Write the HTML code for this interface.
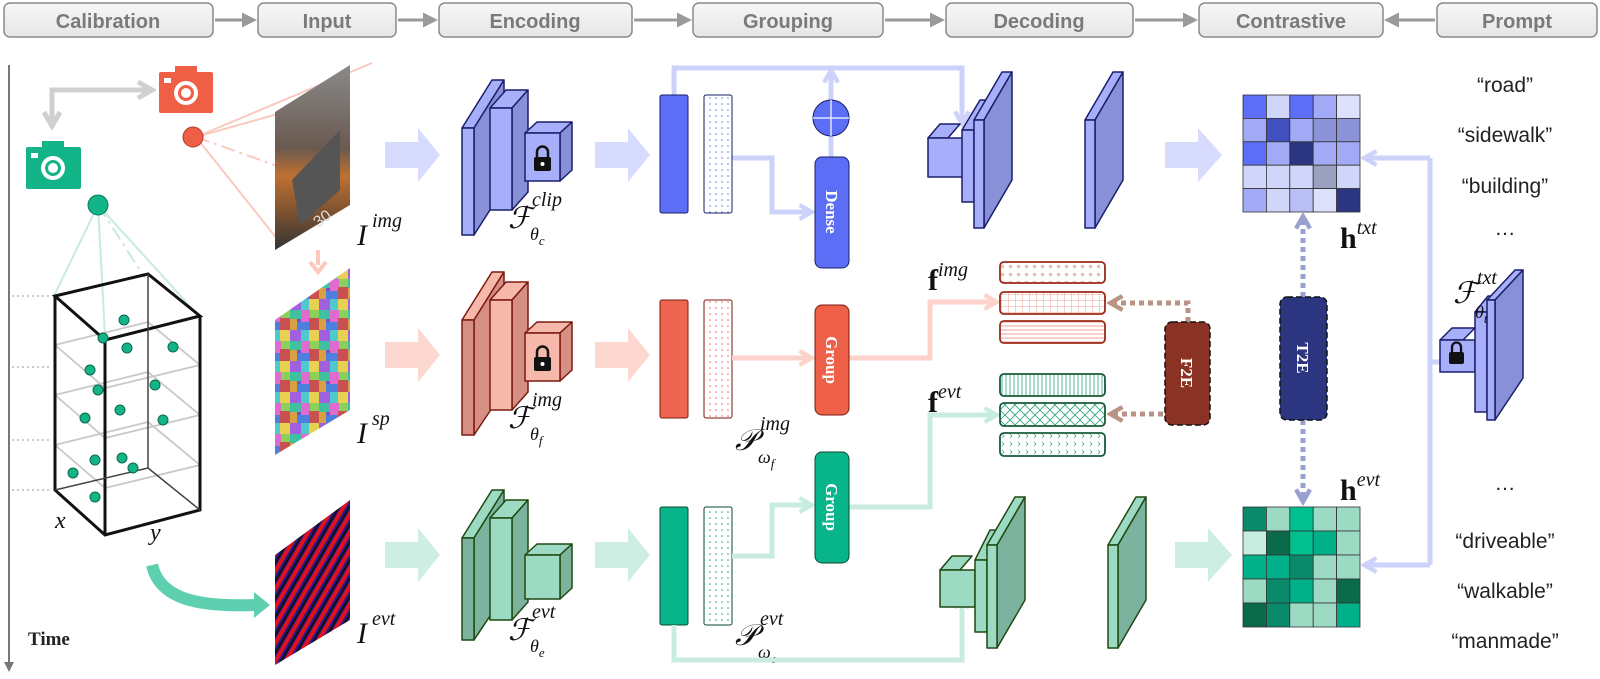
<!DOCTYPE html>
<html><head><meta charset="utf-8"><style>
body{margin:0;background:#fff}
svg{display:block}
.hd{font-family:"Liberation Sans Narrow","Liberation Sans",sans-serif;font-weight:bold;font-size:20px;fill:#7a7a7a;text-anchor:middle}
.m{font-family:"Liberation Serif",serif;font-style:italic;fill:#111}
.p{font-family:"Liberation Sans Narrow","Liberation Sans",sans-serif;font-size:21px;fill:#222;text-anchor:middle}
.pill{font-family:"Liberation Serif",serif;font-weight:bold;font-size:17px;fill:#fff;text-anchor:middle}
</style></head><body>
<svg width="1600" height="679" viewBox="0 0 1600 679" xmlns="http://www.w3.org/2000/svg">
<defs>
<linearGradient id="hg" x1="0" y1="0" x2="0" y2="1"><stop offset="0" stop-color="#f7f7f7"/><stop offset="1" stop-color="#e6e6e6"/></linearGradient>
<pattern id="dotB" width="6" height="6" patternUnits="userSpaceOnUse"><circle cx="2" cy="2" r="0.8" fill="#6a78e8"/></pattern>
<pattern id="dotR" width="6" height="6" patternUnits="userSpaceOnUse"><circle cx="2" cy="2" r="0.8" fill="#e86a5a"/></pattern>
<pattern id="dotG" width="6" height="6" patternUnits="userSpaceOnUse"><circle cx="2" cy="2" r="0.8" fill="#19a27c"/></pattern>
<pattern id="crossR" width="8" height="8" patternUnits="userSpaceOnUse"><path d="M1 1l3 3M4 1l-3 3" stroke="#e8887a" stroke-width="0.8"/></pattern>
<pattern id="gridR" width="7" height="6" patternUnits="userSpaceOnUse"><path d="M0 0H7M0 0V6" stroke="#e8887a" stroke-width="0.8"/></pattern>
<pattern id="hlR" width="4" height="4" patternUnits="userSpaceOnUse"><path d="M0 2H4" stroke="#e8887a" stroke-width="0.8"/></pattern>
<pattern id="vlG" width="4" height="4" patternUnits="userSpaceOnUse"><path d="M2 0V4" stroke="#2aa47e" stroke-width="0.8"/></pattern>
<pattern id="xG" width="10" height="10" patternUnits="userSpaceOnUse"><path d="M0 0L10 10M10 0L0 10" stroke="#2aa47e" stroke-width="0.8"/></pattern>
<pattern id="cvG" width="8" height="8" patternUnits="userSpaceOnUse"><path d="M2 2l2 2-2 2" fill="none" stroke="#2aa47e" stroke-width="0.7"/></pattern>
<pattern id="sp" width="29" height="31" patternUnits="userSpaceOnUse">
<rect width="29" height="31" fill="#6f55c8"/><rect x="0" y="0" width="11" height="9" fill="#3fc0a0"/><rect x="11" y="0" width="9" height="12" fill="#e06bd0"/><rect x="20" y="0" width="9" height="8" fill="#8bd05a"/><rect x="0" y="9" width="7" height="11" fill="#d8a040"/><rect x="7" y="12" width="12" height="8" fill="#4b7fe0"/><rect x="19" y="8" width="10" height="12" fill="#c85050"/><rect x="0" y="20" width="11" height="11" fill="#a060e0"/><rect x="11" y="20" width="8" height="11" fill="#50c8d0"/><rect x="19" y="20" width="10" height="11" fill="#e8d050"/></pattern>
<pattern id="ev" width="9" height="9" patternUnits="userSpaceOnUse" patternTransform="rotate(30)"><rect width="9" height="9" fill="#2a1a8a"/><rect width="4" height="9" fill="#e01020"/><rect x="6" width="2" height="9" fill="#111"/></pattern>
<linearGradient id="photo" x1="0" y1="0" x2="0" y2="1"><stop offset="0" stop-color="#8a8a8a"/><stop offset="0.45" stop-color="#6a5a50"/><stop offset="0.6" stop-color="#c07030"/><stop offset="1" stop-color="#333"/></linearGradient>
<marker id="ag" viewBox="0 0 10 10" refX="8" refY="5" markerWidth="5" markerHeight="5" orient="auto"><path d="M0 0L10 5L0 10z" fill="#9a9a9a"/></marker>
<marker id="ac" viewBox="0 0 10 10" refX="7" refY="5" markerWidth="4" markerHeight="4" orient="auto"><path d="M1 1L8 5L1 9" fill="none" stroke="#d0d0d0" stroke-width="2.5"/></marker>
<marker id="ab" viewBox="0 0 10 10" refX="7" refY="5" markerWidth="3.5" markerHeight="3.5" orient="auto"><path d="M1 1L8 5L1 9" fill="none" stroke="#cdd2fb" stroke-width="2.5"/></marker>
<marker id="ar" viewBox="0 0 10 10" refX="7" refY="5" markerWidth="3.5" markerHeight="3.5" orient="auto"><path d="M1 1L8 5L1 9" fill="none" stroke="#fcd2ca" stroke-width="2.5"/></marker>
<marker id="agr" viewBox="0 0 10 10" refX="7" refY="5" markerWidth="3.5" markerHeight="3.5" orient="auto"><path d="M1 1L8 5L1 9" fill="none" stroke="#c8eddf" stroke-width="2.5"/></marker>
<marker id="abr" viewBox="0 0 10 10" refX="7" refY="5" markerWidth="3.5" markerHeight="3.5" orient="auto"><path d="M1 1L8 5L1 9" fill="none" stroke="#b99484" stroke-width="2.5"/></marker>
<marker id="adb" viewBox="0 0 10 10" refX="7" refY="5" markerWidth="3.5" markerHeight="3.5" orient="auto"><path d="M1 1L8 5L1 9" fill="none" stroke="#9aa0d0" stroke-width="2.5"/></marker>
<marker id="at" viewBox="0 0 10 10" refX="8" refY="5" markerWidth="5" markerHeight="5" orient="auto"><path d="M0 0L10 5L0 10z" fill="#777"/></marker>
</defs>

<!-- header -->
<g stroke="#8a8a8a" stroke-width="1.5" fill="url(#hg)">
<rect x="4" y="3" width="209" height="34" rx="6"/>
<rect x="258" y="3" width="138" height="34" rx="6"/>
<rect x="439" y="3" width="193" height="34" rx="6"/>
<rect x="693" y="3" width="190" height="34" rx="6"/>
<rect x="946" y="3" width="187" height="34" rx="6"/>
<rect x="1199" y="3" width="184" height="34" rx="6"/>
<rect x="1437" y="3" width="160" height="34" rx="6"/>
</g>
<g stroke="#9a9a9a" stroke-width="3" marker-end="url(#ag)">
<line x1="215" y1="20" x2="254" y2="20"/><line x1="398" y1="20" x2="435" y2="20"/><line x1="634" y1="20" x2="689" y2="20"/>
<line x1="885" y1="20" x2="942" y2="20"/><line x1="1135" y1="20" x2="1195" y2="20"/><line x1="1435" y1="20" x2="1387" y2="20"/>
</g>
<text class="hd" x="108" y="28">Calibration</text><text class="hd" x="327" y="28">Input</text><text class="hd" x="535" y="28">Encoding</text>
<text class="hd" x="788" y="28">Grouping</text><text class="hd" x="1039" y="28">Decoding</text><text class="hd" x="1291" y="28">Contrastive</text><text class="hd" x="1517" y="28">Prompt</text>

<!-- time axis -->
<line x1="9" y1="65" x2="9" y2="670" stroke="#777" stroke-width="2" marker-end="url(#at)"/>
<text x="28" y="645" font-family="Liberation Serif,serif" font-weight="bold" font-size="19" fill="#222">Time</text>

<!-- cameras -->
<path d="M52 127V90H150" fill="none" stroke="#d0d0d0" stroke-width="5" marker-end="url(#ac)"/>
<path d="M52 90V124" fill="none" stroke="#d0d0d0" stroke-width="5" marker-end="url(#ac)"/>
<g><rect x="159" y="72" width="54" height="41" rx="2" fill="#ef5f45"/><rect x="175" y="66" width="22" height="8" fill="#ef5f45"/><rect x="164" y="78" width="7" height="5" fill="#fff"/><circle cx="186" cy="93" r="12" fill="#fff"/><circle cx="186" cy="93" r="8" fill="#ef5f45"/><circle cx="186" cy="93" r="5" fill="#fff"/></g>
<g><rect x="26" y="147" width="55" height="42" rx="2" fill="#13b487"/><rect x="42" y="141" width="22" height="8" fill="#13b487"/><rect x="31" y="153" width="7" height="5" fill="#fff"/><circle cx="53" cy="168" r="12" fill="#fff"/><circle cx="53" cy="168" r="8" fill="#13b487"/><circle cx="53" cy="168" r="5" fill="#fff"/></g>

<!-- red frustum -->
<g stroke="#fbc9bf" stroke-width="2" fill="none">
<line x1="196" y1="137" x2="372" y2="63"/><line x1="196" y1="137" x2="285" y2="112"/><line x1="196" y1="137" x2="282" y2="245"/>
<line x1="196" y1="137" x2="280" y2="167" stroke-dasharray="14 5 3 5"/>
</g>
<circle cx="193" cy="137" r="10" fill="#ef5f45" stroke="#b03a28" stroke-width="1"/>

<!-- cube -->
<g stroke="#c7ebe0" stroke-width="2" fill="none">
<line x1="98" y1="205" x2="53" y2="298"/><line x1="98" y1="205" x2="105" y2="335"/><line x1="98" y1="205" x2="198" y2="315"/><line x1="98" y1="205" x2="145" y2="278" stroke-dasharray="14 5 3 5"/>
</g>
<g stroke="#aaa" stroke-dasharray="2 3" stroke-width="1.3"><line x1="12" y1="296" x2="52" y2="296"/><line x1="12" y1="367" x2="52" y2="367"/><line x1="12" y1="440" x2="52" y2="440"/><line x1="12" y1="490" x2="52" y2="490"/></g>
<g stroke="#c8c8c8" stroke-width="1.8" fill="none">
<path d="M55 345L148 322L200 365L105 388Z"/><path d="M55 395L148 372L200 415L105 438Z"/><path d="M55 445L148 422L200 465L105 488Z"/>
</g>
<g stroke="#111" stroke-width="3" fill="none">
<path d="M55 296L148 274L200 316L105 340Z"/><path d="M55 296V490L105 535L200 510V316"/><line x1="105" y1="340" x2="105" y2="535"/><path d="M55 490L148 468L200 510" stroke-width="1.5" stroke="#444"/><line x1="148" y1="274" x2="148" y2="468" stroke-width="1.5" stroke="#444"/>
</g>
<circle cx="98" cy="205" r="10" fill="#13b487" stroke="#0a7a5a"/>
<g fill="#13b487" stroke="#0a6a4a" stroke-width="1">
<circle cx="124" cy="320" r="5"/><circle cx="103" cy="338" r="5"/><circle cx="127" cy="348" r="5"/><circle cx="173" cy="347" r="5"/><circle cx="90" cy="370" r="5"/><circle cx="98" cy="390" r="5"/><circle cx="155" cy="385" r="5"/><circle cx="85" cy="418" r="5"/><circle cx="120" cy="410" r="5"/><circle cx="163" cy="420" r="5"/><circle cx="95" cy="460" r="5"/><circle cx="122" cy="458" r="5"/><circle cx="73" cy="473" r="5"/><circle cx="133" cy="468" r="5"/><circle cx="95" cy="497" r="5"/>
</g>
<text class="m" x="55" y="528" font-size="24">x</text><text class="m" x="150" y="540" font-size="24">y</text>
<path d="M152 565C160 600 200 607 255 605" fill="none" stroke="#5ed0b0" stroke-width="12"/>
<path d="M254 592L270 605L254 618Z" fill="#5ed0b0"/>

<!-- images -->
<path d="M275 112L350 65V205L275 250Z" fill="url(#photo)"/>
<path d="M292 180L340 130V190L300 225Z" fill="#555"/>
<text x="318" y="228" font-family="Liberation Sans,sans-serif" font-size="16" fill="#ddd" transform="rotate(-35 318 228)">30</text>
<path d="M318 250V265" stroke="#fcc8bd" stroke-width="4"/><path d="M310 262L318 272L326 262" fill="none" stroke="#fcc8bd" stroke-width="4"/>
<path d="M275 320L350 268V410L275 455Z" fill="url(#sp)"/>
<path d="M275 555L350 500V620L275 665Z" fill="url(#ev)"/>
<text class="m" x="357" y="245" font-size="30">I</text><text class="m" x="372" y="227" font-size="20">img</text>
<text class="m" x="357" y="443" font-size="30">I</text><text class="m" x="372" y="425" font-size="20">sp</text>
<text class="m" x="357" y="643" font-size="30">I</text><text class="m" x="372" y="625" font-size="20">evt</text>

<!-- fat arrows -->
<g fill="#d7dbfe"><path d="M385 142H418V128L440 155L418 182V168H385Z"/><path d="M595 142H628V128L650 155L628 182V168H595Z"/><path d="M1165 142H1198V128L1222 155L1198 182V168H1165Z"/></g>
<g fill="#fdd8d0"><path d="M385 342H418V328L440 355L418 382V368H385Z"/><path d="M595 342H628V328L650 355L628 382V368H595Z"/></g>
<g fill="#cfeee3"><path d="M385 542H418V528L440 555L418 582V568H385Z"/><path d="M595 542H628V528L650 555L628 582V568H595Z"/><path d="M1175 542H1208V528L1232 555L1208 582V568H1175Z"/></g>

<!-- blue encoder -->
<g stroke="#1a1f6a" stroke-width="1.5" stroke-linejoin="round">
<path d="M462 128L492 80H504L474 128Z" fill="#a7affa"/><path d="M474 128L504 80V188L474 235Z" fill="#8890d8"/><rect x="462" y="128" width="12" height="107" fill="#a7affa"/>
<path d="M490 108L506 90H528L512 108Z" fill="#a7affa"/><path d="M512 108L528 90V192L512 210Z" fill="#8890d8"/><rect x="490" y="108" width="22" height="102" fill="#a7affa"/>
<path d="M525 133L537 122H572L560 133Z" fill="#a7affa"/><path d="M560 133L572 122V170L560 181Z" fill="#8890d8"/><rect x="525" y="133" width="35" height="48" fill="#a7affa"/>
</g>
<g fill="#111"><rect x="534" y="157" width="17" height="14" rx="2"/><path d="M537 157V152a5.5 5.5 0 0 1 11 0V157" fill="none" stroke="#111" stroke-width="2.5"/></g><circle cx="542.5" cy="164" r="2" fill="#fff"/>
<text class="m" x="508" y="228" font-size="30">ℱ</text><text class="m" x="532" y="206" font-size="20">clip</text><text class="m" x="530" y="240" font-size="18">θ<tspan font-size="13" dy="5">c</tspan></text>

<!-- red encoder -->
<g stroke="#7a1a10" stroke-width="1.5" stroke-linejoin="round">
<path d="M462 320L492 272H504L474 320Z" fill="#f7b8ac"/><path d="M474 320L504 272V390L474 435Z" fill="#d68f85"/><rect x="462" y="320" width="12" height="115" fill="#d68f85"/>
<path d="M490 300L506 282H528L512 300Z" fill="#f7b8ac"/><path d="M512 300L528 282V392L512 410Z" fill="#d68f85"/><rect x="490" y="300" width="22" height="110" fill="#f7b8ac"/>
<path d="M525 333L537 322H572L560 333Z" fill="#f7b8ac"/><path d="M560 333L572 322V370L560 381Z" fill="#d68f85"/><rect x="525" y="333" width="35" height="48" fill="#f7b8ac"/>
</g>
<g fill="#111"><rect x="534" y="357" width="17" height="14" rx="2"/><path d="M537 357V352a5.5 5.5 0 0 1 11 0V357" fill="none" stroke="#111" stroke-width="2.5"/></g><circle cx="542.5" cy="364" r="2" fill="#fff"/>
<text class="m" x="508" y="428" font-size="30">ℱ</text><text class="m" x="532" y="406" font-size="20">img</text><text class="m" x="530" y="440" font-size="18">θ<tspan font-size="13" dy="5">f</tspan></text>

<!-- green encoder -->
<g stroke="#1f4a10" stroke-width="1.5" stroke-linejoin="round">
<path d="M462 538L492 490H504L474 538Z" fill="#9ddac4"/><path d="M474 538L504 490V595L474 640Z" fill="#7bb39f"/><rect x="462" y="538" width="12" height="102" fill="#7bb39f"/>
<path d="M490 518L506 500H528L512 518Z" fill="#9ddac4"/><path d="M512 518L528 500V602L512 620Z" fill="#7bb39f"/><rect x="490" y="518" width="22" height="102" fill="#9ddac4"/>
<path d="M525 555L537 544H572L560 555Z" fill="#9ddac4"/><path d="M560 555L572 544V588L560 599Z" fill="#7bb39f"/><rect x="525" y="555" width="35" height="44" fill="#9ddac4"/>
</g>
<text class="m" x="508" y="640" font-size="30">ℱ</text><text class="m" x="532" y="618" font-size="20">evt</text><text class="m" x="530" y="652" font-size="18">θ<tspan font-size="13" dy="5">e</tspan></text>

<!-- connectors row1 -->
<g fill="none" stroke="#cdd2fb" stroke-width="5">
<path d="M674 95V68H962V122" marker-end="url(#ab)"/>
<path d="M831 100V72" marker-end="url(#ab)"/>
<path d="M732 158H772V212H810" marker-end="url(#ab)"/>
<path d="M831 136V157"/>
</g>
<!-- bars -->
<rect x="660" y="95" width="28" height="118" rx="2" fill="#5b6ef5" stroke="#1a1f6a"/>
<rect x="704" y="95" width="28" height="118" rx="2" fill="url(#dotB)" stroke="#1a1f6a"/>
<rect x="660" y="300" width="28" height="118" rx="2" fill="#ef6650" stroke="#7a1a10"/>
<rect x="704" y="300" width="28" height="118" rx="2" fill="url(#dotR)" stroke="#7a1a10"/>
<rect x="660" y="507" width="28" height="118" rx="2" fill="#08b48a" stroke="#0a4a30"/>
<rect x="704" y="507" width="28" height="118" rx="2" fill="url(#dotG)" stroke="#0a4a30"/>
<text class="m" x="735" y="450" font-size="30">𝒫</text><text class="m" x="760" y="430" font-size="20">img</text><text class="m" x="758" y="463" font-size="18">ω<tspan font-size="13" dy="5">f</tspan></text>
<text class="m" x="735" y="645" font-size="30">𝒫</text><text class="m" x="760" y="625" font-size="20">evt</text><text class="m" x="758" y="658" font-size="18">ω<tspan font-size="13" dy="5">e</tspan></text>

<circle cx="831" cy="118" r="18" fill="#5b6ef5" stroke="#1a1f6a"/><path d="M813 118H849M831 100V136" stroke="#e0e4ff" stroke-width="1.5"/>
<rect x="815" y="157" width="34" height="111" rx="7" fill="#5b6ef5" stroke="#1a1f6a"/>
<text class="pill" transform="translate(826 212) rotate(90)">Dense</text>

<!-- row2 connectors -->
<g fill="none" stroke="#fcd2ca" stroke-width="5">
<path d="M732 358H810" marker-end="url(#ar)"/>
<path d="M849 358H930V302H995" marker-end="url(#ar)"/>
</g>
<rect x="815" y="305" width="34" height="110" rx="7" fill="#ef6048" stroke="#7a1a10"/>
<text class="pill" transform="translate(826 360) rotate(90)">Group</text>

<g fill="none" stroke="#c8eddf" stroke-width="5">
<path d="M732 556H772V505H810" marker-end="url(#agr)"/>
<path d="M849 507H930V415H995" marker-end="url(#agr)"/>
<path d="M674 625V660H962V598" marker-end="url(#agr)"/>
</g>
<rect x="815" y="452" width="34" height="111" rx="7" fill="#08b48a" stroke="#0a4a30"/>
<text class="pill" transform="translate(826 507) rotate(90)">Group</text>

<!-- feature bars -->
<g stroke-width="1.8">
<rect x="1000" y="262" width="105" height="21" rx="4" fill="url(#crossR)" stroke="#9a2a1a"/>
<rect x="1000" y="292" width="105" height="22" rx="4" fill="url(#gridR)" stroke="#9a2a1a"/>
<rect x="1000" y="321" width="105" height="22" rx="4" fill="url(#hlR)" stroke="#9a2a1a"/>
<rect x="1000" y="374" width="105" height="22" rx="4" fill="url(#vlG)" stroke="#1a5a3a"/>
<rect x="1000" y="403" width="105" height="23" rx="4" fill="url(#xG)" stroke="#1a5a3a"/>
<rect x="1000" y="433" width="105" height="23" rx="4" fill="url(#cvG)" stroke="#1a5a3a"/>
</g>
<text x="928" y="290" font-size="30" font-family="Liberation Serif,serif" font-weight="bold" fill="#111">f<tspan class="m" font-weight="normal" font-size="20" dy="-14">img</tspan></text>
<text x="928" y="412" font-size="30" font-family="Liberation Serif,serif" font-weight="bold" fill="#111">f<tspan class="m" font-weight="normal" font-size="20" dy="-14">evt</tspan></text>

<!-- F2E -->
<g fill="none" stroke="#b99484" stroke-width="5" stroke-dasharray="5 4">
<path d="M1188 322V303H1112" marker-end="url(#abr)"/>
<path d="M1188 425V414H1112" marker-end="url(#abr)"/>
</g>
<rect x="1165" y="322" width="45" height="103" rx="7" fill="#8a3324" stroke="#111" stroke-width="1.5" stroke-dasharray="6 3"/>
<text class="pill" font-size="19" transform="translate(1181 373) rotate(90)">F2E</text>
<!-- T2E -->
<g fill="none" stroke="#9aa0d0" stroke-width="5" stroke-dasharray="5 4">
<path d="M1303 297V218" marker-end="url(#adb)"/>
<path d="M1303 420V500" marker-end="url(#adb)"/>
</g>
<rect x="1280" y="297" width="47" height="123" rx="7" fill="#2c3580" stroke="#111" stroke-width="1.5" stroke-dasharray="6 3"/>
<text class="pill" font-size="19" transform="translate(1297 358) rotate(90)">T2E</text>

<!-- decoders -->
<g stroke="#1a1f6a" stroke-width="1.5" stroke-linejoin="round">
<path d="M928 138L940 124H960L948 138Z" fill="#a7affa"/><rect x="928" y="138" width="35" height="39" fill="#a7affa"/>
<path d="M962 130L980 100H992L974 130Z" fill="#a7affa"/><rect x="962" y="130" width="12" height="72" fill="#a7affa"/>
<path d="M974 120L1002 72H1012L984 120Z" fill="#a7affa"/><path d="M984 120L1012 72V180L984 228Z" fill="#8890d8"/><rect x="974" y="120" width="10" height="108" fill="#a7affa"/>
<path d="M1085 120L1113 72H1123L1095 120Z" fill="#a7affa"/><path d="M1095 120L1123 72V180L1095 228Z" fill="#8890d8"/><rect x="1085" y="120" width="10" height="108" fill="#a7affa"/>
</g>
<g stroke="#1f4a10" stroke-width="1.5" stroke-linejoin="round">
<path d="M940 570L952 556H972L960 570Z" fill="#9ddac4"/><rect x="940" y="570" width="35" height="37" fill="#9ddac4"/>
<path d="M975 560L990 530H1002L987 560Z" fill="#9ddac4"/><rect x="975" y="560" width="12" height="72" fill="#9ddac4"/>
<path d="M987 545L1015 497H1025L997 545Z" fill="#9ddac4"/><path d="M997 545L1025 497V600L997 648Z" fill="#7bb39f"/><rect x="987" y="545" width="10" height="103" fill="#9ddac4"/>
<path d="M1108 545L1136 497H1146L1118 545Z" fill="#9ddac4"/><path d="M1118 545L1146 497V600L1118 648Z" fill="#7bb39f"/><rect x="1108" y="545" width="10" height="103" fill="#9ddac4"/>
</g>

<!-- matrices -->
<g stroke="#333" stroke-width="0.8">
<rect x="1243" y="95" width="23.4" height="23.4" fill="#5b6ef5"/><rect x="1266.4" y="95" width="23.4" height="23.4" fill="#d0d5fa"/><rect x="1289.8" y="95" width="23.4" height="23.4" fill="#5b6ef5"/><rect x="1313.2" y="95" width="23.4" height="23.4" fill="#a2aaf5"/><rect x="1336.6" y="95" width="23.4" height="23.4" fill="#dde1fb"/>
<rect x="1243" y="118.4" width="23.4" height="23.4" fill="#a2aaf5"/><rect x="1266.4" y="118.4" width="23.4" height="23.4" fill="#4050c0"/><rect x="1289.8" y="118.4" width="23.4" height="23.4" fill="#a2aaf5"/><rect x="1313.2" y="118.4" width="23.4" height="23.4" fill="#8a92d8"/><rect x="1336.6" y="118.4" width="23.4" height="23.4" fill="#8a92d8"/>
<rect x="1243" y="141.8" width="23.4" height="23.4" fill="#5b6ef5"/><rect x="1266.4" y="141.8" width="23.4" height="23.4" fill="#a2aaf5"/><rect x="1289.8" y="141.8" width="23.4" height="23.4" fill="#2c3580"/><rect x="1313.2" y="141.8" width="23.4" height="23.4" fill="#a2aaf5"/><rect x="1336.6" y="141.8" width="23.4" height="23.4" fill="#a2aaf5"/>
<rect x="1243" y="165.2" width="23.4" height="23.4" fill="#d0d5fa"/><rect x="1266.4" y="165.2" width="23.4" height="23.4" fill="#d0d5fa"/><rect x="1289.8" y="165.2" width="23.4" height="23.4" fill="#d0d5fa"/><rect x="1313.2" y="165.2" width="23.4" height="23.4" fill="#9aa0c0"/><rect x="1336.6" y="165.2" width="23.4" height="23.4" fill="#d0d5fa"/>
<rect x="1243" y="188.6" width="23.4" height="23.4" fill="#a2aaf5"/><rect x="1266.4" y="188.6" width="23.4" height="23.4" fill="#d0d5fa"/><rect x="1289.8" y="188.6" width="23.4" height="23.4" fill="#b8c0f5"/><rect x="1313.2" y="188.6" width="23.4" height="23.4" fill="#dde1fb"/><rect x="1336.6" y="188.6" width="23.4" height="23.4" fill="#2c3580"/>
</g>
<g stroke="#333" stroke-width="0.8">
<rect x="1243" y="507" width="23.4" height="24" fill="#0a8a6a"/><rect x="1266.4" y="507" width="23.4" height="24" fill="#9ddac4"/><rect x="1289.8" y="507" width="23.4" height="24" fill="#00c090"/><rect x="1313.2" y="507" width="23.4" height="24" fill="#9ddac4"/><rect x="1336.6" y="507" width="23.4" height="24" fill="#9ddac4"/>
<rect x="1243" y="531" width="23.4" height="24" fill="#c8ece0"/><rect x="1266.4" y="531" width="23.4" height="24" fill="#0a6a4a"/><rect x="1289.8" y="531" width="23.4" height="24" fill="#00c090"/><rect x="1313.2" y="531" width="23.4" height="24" fill="#00b088"/><rect x="1336.6" y="531" width="23.4" height="24" fill="#9ddac4"/>
<rect x="1243" y="555" width="23.4" height="24" fill="#00b088"/><rect x="1266.4" y="555" width="23.4" height="24" fill="#00b088"/><rect x="1289.8" y="555" width="23.4" height="24" fill="#0a8a6a"/><rect x="1313.2" y="555" width="23.4" height="24" fill="#9ddac4"/><rect x="1336.6" y="555" width="23.4" height="24" fill="#9ddac4"/>
<rect x="1243" y="579" width="23.4" height="24" fill="#9ddac4"/><rect x="1266.4" y="579" width="23.4" height="24" fill="#0a8a6a"/><rect x="1289.8" y="579" width="23.4" height="24" fill="#00b088"/><rect x="1313.2" y="579" width="23.4" height="24" fill="#9ddac4"/><rect x="1336.6" y="579" width="23.4" height="24" fill="#0a6a4a"/>
<rect x="1243" y="603" width="23.4" height="24" fill="#0a6a4a"/><rect x="1266.4" y="603" width="23.4" height="24" fill="#0a8a6a"/><rect x="1289.8" y="603" width="23.4" height="24" fill="#9ddac4"/><rect x="1313.2" y="603" width="23.4" height="24" fill="#9ddac4"/><rect x="1336.6" y="603" width="23.4" height="24" fill="#00b088"/>
</g>
<text x="1340" y="248" font-size="30" font-family="Liberation Serif,serif" font-weight="bold" fill="#111">h<tspan class="m" font-weight="normal" font-size="20" dy="-14">txt</tspan></text>
<text x="1340" y="500" font-size="30" font-family="Liberation Serif,serif" font-weight="bold" fill="#111">h<tspan class="m" font-weight="normal" font-size="20" dy="-14">evt</tspan></text>

<!-- text encoder connectors -->
<g fill="none" stroke="#cdd2fb" stroke-width="5">
<path d="M1430 158V565"/><path d="M1430 158H1366" marker-end="url(#ab)"/><path d="M1430 565H1366" marker-end="url(#ab)"/><path d="M1430 362H1442"/>
</g>
<g stroke="#1a1f6a" stroke-width="1.5" stroke-linejoin="round">
<path d="M1440 340L1452 328H1475L1463 340Z" fill="#a7affa"/><rect x="1440" y="340" width="35" height="32" fill="#a7affa"/>
<path d="M1475 312L1488 296H1500L1487 312Z" fill="#a7affa"/><rect x="1475" y="312" width="12" height="100" fill="#a7affa"/>
<path d="M1487 300L1515 270H1523L1495 300Z" fill="#a7affa"/><path d="M1495 300L1523 270V378L1495 420Z" fill="#8890d8"/><rect x="1487" y="300" width="8" height="120" fill="#a7affa"/>
</g>
<g fill="#111"><rect x="1449" y="352" width="15" height="12" rx="2"/><path d="M1452 352V347a4.5 4.5 0 0 1 9 0V352" fill="none" stroke="#111" stroke-width="2.3"/></g>
<text class="m" x="1453" y="303" font-size="30">ℱ</text><text class="m" x="1477" y="284" font-size="20">txt</text><text class="m" x="1475" y="318" font-size="18">θ<tspan font-size="13" dy="5">t</tspan></text>

<!-- prompts -->
<text class="p" x="1505" y="92">“road”</text>
<text class="p" x="1505" y="142">“sidewalk”</text>
<text class="p" x="1505" y="193">“building”</text>
<text class="p" x="1505" y="235">…</text>
<text class="p" x="1505" y="490">…</text>
<text class="p" x="1505" y="548">“driveable”</text>
<text class="p" x="1505" y="598">“walkable”</text>
<text class="p" x="1505" y="648">“manmade”</text>
</svg>
</body></html>
